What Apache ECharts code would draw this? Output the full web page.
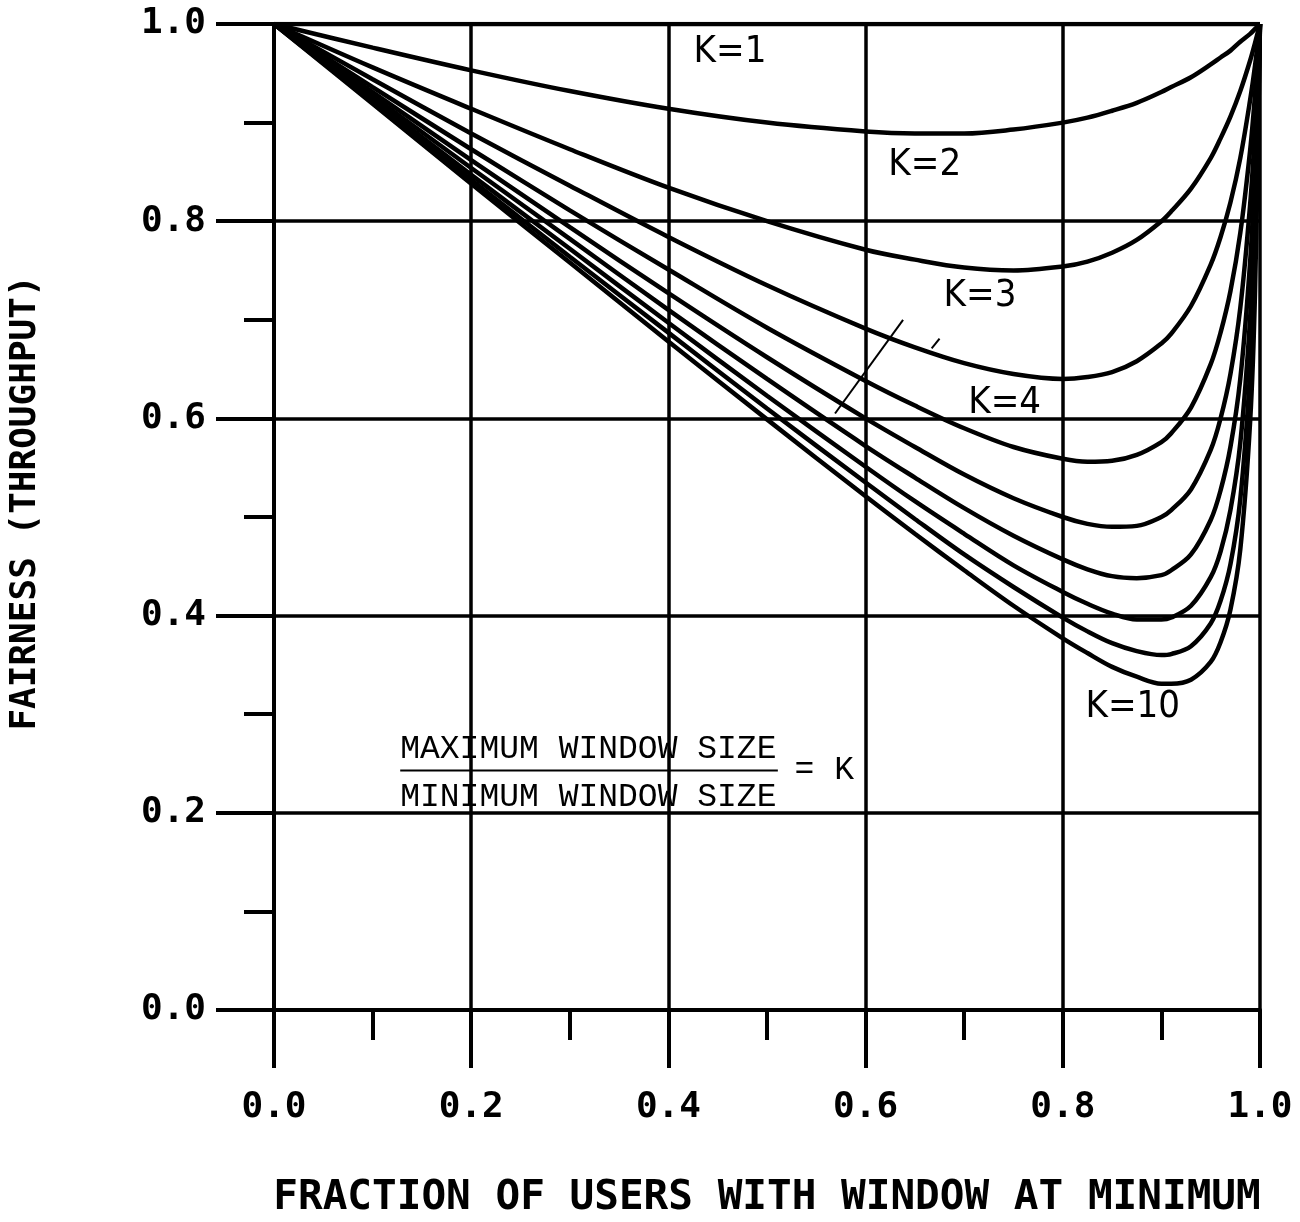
<!DOCTYPE html>
<html><head><meta charset="utf-8">
<script src="https://cdn.jsdelivr.net/npm/echarts@6/dist/echarts.min.js"></script>
<style>html,body{margin:0;padding:0;background:#fff}#c{width:1300px;height:1222px}</style>
</head><body><div id="c"></div>
<script>
// fraction of users with window at minimum
const xFraction = [0, 0.1, 0.2, 0.3, 0.4, 0.5, 0.6, 0.65, 0.7, 0.75, 0.8, 0.825, 0.85, 0.875, 0.9, 0.91, 0.93, 0.95, 0.96, 0.97, 0.98, 0.99, 0.995, 1];
// fairness curves, K = max window / min window
const k1  = [1, 1, 1, 1, 1, 1, 1, 1, 1, 1, 1, 1, 1, 1, 1, 1, 1, 1, 1, 1, 1, 1, 1, 1];
const k2  = [1, 0.976, 0.953, 0.932, 0.914, 0.900, 0.891, 0.889, 0.889, 0.893, 0.900, 0.905, 0.912, 0.920, 0.931, 0.936, 0.946, 0.959, 0.966, 0.973, 0.982, 0.990, 0.995, 1];
const k3  = [1, 0.956, 0.914, 0.873, 0.834, 0.800, 0.771, 0.761, 0.753, 0.750, 0.754, 0.759, 0.768, 0.781, 0.800, 0.810, 0.833, 0.864, 0.884, 0.906, 0.932, 0.963, 0.981, 1];
const k4  = [1, 0.944, 0.889, 0.836, 0.784, 0.735, 0.691, 0.672, 0.656, 0.645, 0.640, 0.642, 0.647, 0.658, 0.676, 0.686, 0.714, 0.756, 0.784, 0.819, 0.864, 0.923, 0.958, 1];
const k5  = [1, 0.936, 0.873, 0.811, 0.751, 0.692, 0.638, 0.613, 0.590, 0.571, 0.559, 0.556, 0.557, 0.563, 0.576, 0.585, 0.611, 0.655, 0.687, 0.729, 0.788, 0.872, 0.929, 1];
const k6  = [1, 0.931, 0.862, 0.794, 0.727, 0.662, 0.600, 0.571, 0.543, 0.519, 0.500, 0.493, 0.490, 0.491, 0.500, 0.507, 0.528, 0.568, 0.600, 0.645, 0.712, 0.817, 0.894, 1];
const k7  = [1, 0.927, 0.854, 0.782, 0.710, 0.640, 0.572, 0.540, 0.509, 0.481, 0.457, 0.447, 0.440, 0.438, 0.441, 0.446, 0.462, 0.497, 0.527, 0.571, 0.640, 0.759, 0.856, 1];
const k8  = [1, 0.924, 0.847, 0.772, 0.697, 0.623, 0.551, 0.516, 0.483, 0.451, 0.424, 0.412, 0.402, 0.396, 0.396, 0.398, 0.410, 0.439, 0.465, 0.507, 0.575, 0.702, 0.815, 1];
const k9  = [1, 0.921, 0.842, 0.764, 0.687, 0.610, 0.535, 0.498, 0.462, 0.429, 0.398, 0.384, 0.372, 0.364, 0.360, 0.361, 0.369, 0.392, 0.415, 0.452, 0.518, 0.648, 0.773, 1];
const k10 = [1, 0.919, 0.838, 0.758, 0.678, 0.599, 0.521, 0.483, 0.446, 0.410, 0.377, 0.362, 0.348, 0.338, 0.331, 0.331, 0.335, 0.353, 0.373, 0.406, 0.467, 0.597, 0.730, 1];
const curves = [k1, k2, k3, k4, k5, k6, k7, k8, k9, k10];
const curveNames = ['K=1','K=2','K=3','K=4','K=5','K=6','K=7','K=8','K=9','K=10'];
// curve labels (text, anchor x, anchor y in data units)
const labelText = ['K=1', 'K=2', 'K=3', 'K=4', 'K=10'];
const labelX = [0.4625, 0.660, 0.716, 0.741, 0.871];
const labelY = [0.9716, 0.857, 0.724, 0.615, 0.307];
// hand-drawn leader strokes (data units)
const leaderA = [[0.569, 0.605], [0.638, 0.700]];
const leaderB = [[0.667, 0.671], [0.675, 0.681]];
// legend formula text
const legendTop = 'MAXIMUM WINDOW SIZE';
const legendBottom = 'MINIMUM WINDOW SIZE';
const legendEq = '= K';
const legendAnchor = [0.128, 0.264, 0.216, 0.243, 0.511, 0.528]; // x-left, y-top-text, y-bottom-text, y-rule, x-rule-end, x-eq

const chart = echarts.init(document.getElementById('c'), null, {renderer: 'canvas'});
const black = '#000';
const monoBold = {fontFamily: 'DejaVu Sans Mono', fontWeight: 'bold', color: black};

const series = curves.map((arr, i) => ({
  type: 'line', name: curveNames[i],
  data: xFraction.map((x, j) => [x, arr[j]]),
  showSymbol: false, smooth: 0.35,
  lineStyle: {color: black, width: 4.5}, z: 3, silent: true
}));
[leaderA, leaderB].forEach(seg => series.push({
  type: 'line', data: seg, showSymbol: false,
  lineStyle: {color: black, width: 2}, z: 3, silent: true
}));

const axisCommon = {
  type: 'value', min: 0, max: 1, interval: 0.2,
  axisLine: {show: true, onZero: false, lineStyle: {color: black, width: 4}},
  axisTick: {show: true, length: 58, lineStyle: {color: black, width: 4}},
  minorTick: {show: true, splitNumber: 2, length: 30, lineStyle: {color: black, width: 4}},
  splitLine: {show: true, lineStyle: {color: black, width: 3.5}},
};

chart.setOption({
  animation: false,
  backgroundColor: '#fff',
  grid: {left: 274, right: 40, top: 24, bottom: 212, containLabel: false, outerBoundsMode: 'none'},
  xAxis: Object.assign({}, axisCommon, {
    axisLabel: Object.assign({margin: 80, fontSize: 36, formatter: v => v.toFixed(1)}, monoBold),
    name: 'FRACTION OF USERS WITH WINDOW AT MINIMUM', nameLocation: 'middle', nameGap: 168,
    nameTextStyle: Object.assign({fontSize: 41}, monoBold)
  }),
  yAxis: Object.assign({}, axisCommon, {
    axisLabel: Object.assign({margin: 68, fontSize: 36, formatter: v => v.toFixed(1)}, monoBold),
    name: 'FAIRNESS (THROUGHPUT)', nameLocation: 'middle', nameGap: 230,
    nameTextStyle: Object.assign({fontSize: 36, padding: [0, 0, 0, 28]}, monoBold)
  }),
  series: series
});

function px(x, y) { return chart.convertToPixel({gridIndex: 0}, [x, y]); }
const graphics = [];
const kFont = '38px "Liberation Sans Narrow", "DejaVu Sans Condensed", sans-serif';
labelText.forEach((t, i) => {
  const p = px(labelX[i], labelY[i]);
  graphics.push({type: 'text', x: p[0], y: p[1], z: 10, silent: true,
    style: {text: t, font: kFont, fill: black, align: 'center', verticalAlign: 'middle'}});
});
const legFont = '33px "Liberation Mono", "DejaVu Sans Mono", monospace';
const a = legendAnchor;
const pTop = px(a[0], a[1]);
const pBot = px(a[0], a[2]);
const pRule0 = px(a[0], a[3]);
const pRule1 = px(a[4], a[3]);
const pEq = px(a[5], a[3]);
graphics.push({type: 'text', x: pTop[0], y: pTop[1], z: 10, silent: true,
  style: {text: legendTop, font: legFont, fill: black, align: 'left', verticalAlign: 'middle'}});
graphics.push({type: 'text', x: pBot[0], y: pBot[1], z: 10, silent: true,
  style: {text: legendBottom, font: legFont, fill: black, align: 'left', verticalAlign: 'middle'}});
graphics.push({type: 'line', z: 10, silent: true,
  shape: {x1: pRule0[0], y1: pRule0[1], x2: pRule1[0], y2: pRule1[1]},
  style: {stroke: black, lineWidth: 2}});
graphics.push({type: 'text', x: pEq[0], y: pEq[1], z: 10, silent: true,
  style: {text: legendEq, font: legFont, fill: black, align: 'left', verticalAlign: 'middle'}});
chart.setOption({graphic: graphics});
</script></body></html>
